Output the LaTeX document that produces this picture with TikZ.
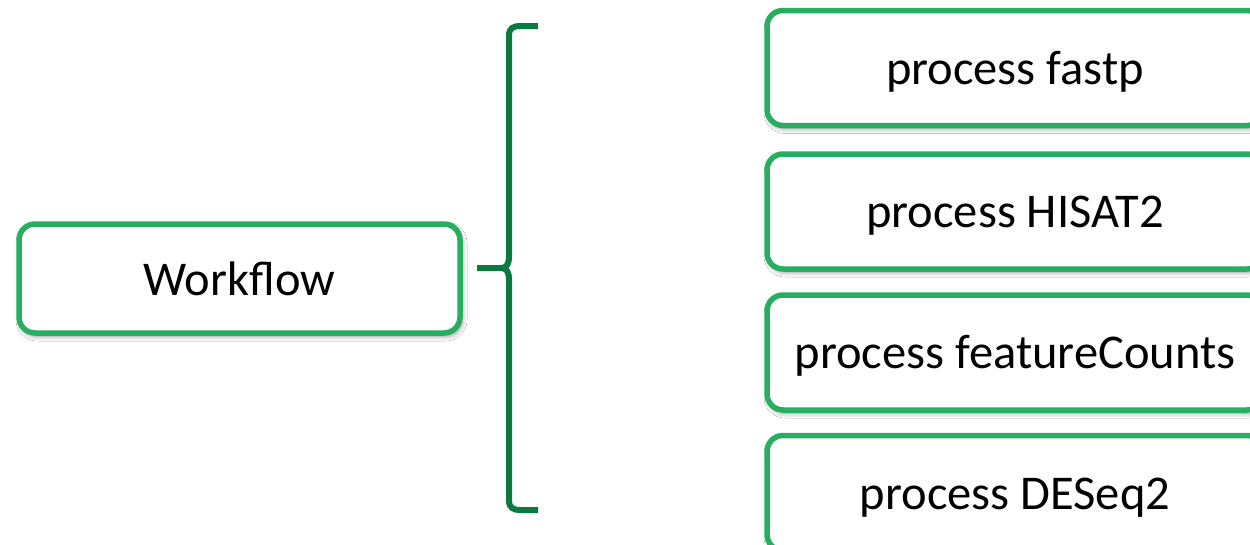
\documentclass[tikz,border=0pt]{standalone}
\usepackage{fontspec}
\setmainfont{Carlito}
\usetikzlibrary{shadows.blur}
\definecolor{boxgreen}{RGB}{39,174,96}
\definecolor{bracegreen}{RGB}{10,122,62}
\begin{document}
\begin{tikzpicture}[
        x=1pt, y=-1pt,
        font=\fontsize{48.5}{58}\selectfont
    ]
    \tikzset{
        mynode/.style = {rectangle, rounded corners=16pt, draw=boxgreen, line width=5.5pt,
                         fill=white, align=center, inner sep=0pt,
                         blur shadow={shadow xshift=2pt, shadow yshift=-3pt,
                                      shadow blur radius=5pt, shadow opacity=45}},
        wfnode/.style = {mynode, minimum width=441pt, minimum height=109pt},
        procnode/.style = {mynode, minimum width=496pt, minimum height=115pt,
                           text height=34pt, text depth=2pt},
        bracen/.style = {draw=bracegreen, line width=6pt, line join=round},
    }
    \clip (0,0) rectangle (1250,544);
    \fill[white] (0,0) rectangle (1250,544);
    %
    \node[wfnode] at (239.5,278.5) (wf) {Workflow};
    %
    \node[procnode] at (1015,68) (fastp) {process fastp};
    \node[procnode] at (1015,211.5) (hisat) {process HISAT2};
    \node[procnode] at (1015,352.5) (counts) {process featureCounts};
    \node[procnode] at (1015,493) (deseq) {process DESeq2};
    %
    \coordinate (stub) at (477,268);
    \coordinate (tip) at (501,268);
    \coordinate (top) at (538,26);
    \coordinate (bot) at (538,510);
    %
    \draw[bracen] (stub) -- (tip)
        .. controls (507,268) and (509,264) .. (509,256)
        -- (509,36) .. controls (509,28) and (513,26) .. (521,26) -- (top);
    \draw[bracen] (tip)
        .. controls (507,268) and (509,272) .. (509,280)
        -- (509,500) .. controls (509,508) and (513,510) .. (521,510) -- (bot);
\end{tikzpicture}
\end{document}
